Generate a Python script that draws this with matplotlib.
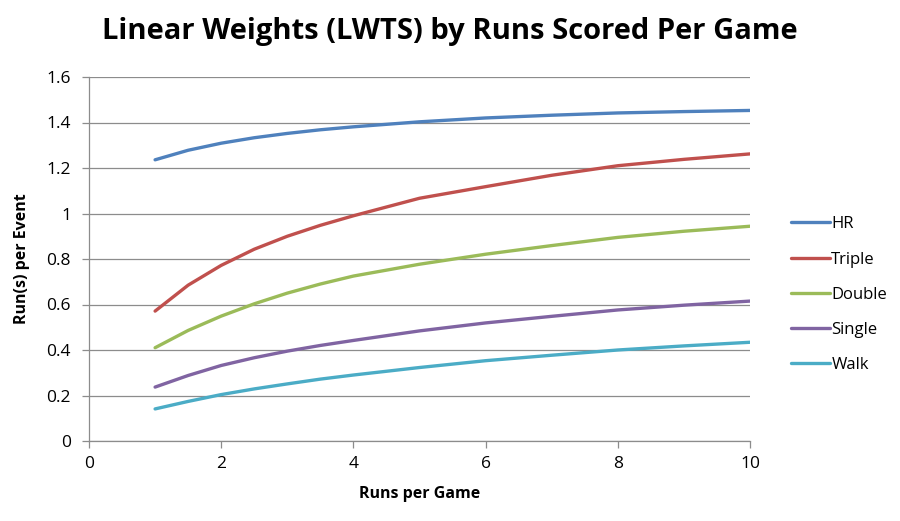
import numpy as np
import matplotlib
matplotlib.use('Agg')
import matplotlib.pyplot as plt

# values (runs per game -> runs per event)
runs_per_game = [1, 1.5, 2, 2.5, 3, 3.5, 4, 5, 6, 7, 8, 9, 10]
hr = [1.236, 1.278, 1.309, 1.333, 1.352, 1.368, 1.381, 1.403, 1.420, 1.432, 1.442, 1.448, 1.453]
triple = [0.571, 0.685, 0.772, 0.843, 0.900, 0.948, 0.990, 1.067, 1.118, 1.168, 1.210, 1.238, 1.262]
double = [0.410, 0.486, 0.549, 0.603, 0.650, 0.690, 0.725, 0.777, 0.821, 0.859, 0.895, 0.922, 0.944]
single = [0.237, 0.288, 0.332, 0.366, 0.395, 0.420, 0.442, 0.484, 0.519, 0.548, 0.576, 0.597, 0.615]
walk = [0.141, 0.174, 0.204, 0.229, 0.251, 0.272, 0.290, 0.323, 0.353, 0.377, 0.400, 0.418, 0.434]

series_names = ['HR', 'Triple', 'Double', 'Single', 'Walk']
series_vals = [hr, triple, double, single, walk]
colors = ['#4F81BD', '#C0504D', '#9BBB59', '#8064A2', '#4BACC6']

x_ticks = [0, 2, 4, 6, 8, 10]
y_ticks = [0, 0.2, 0.4, 0.6, 0.8, 1.0, 1.2, 1.4, 1.6]
y_labels = ['0', '0.2', '0.4', '0.6', '0.8', '1', '1.2', '1.4', '1.6']

plt.rcParams['font.family'] = ['Open Sans', 'DejaVu Sans']

W, H, DPI = 900, 521, 100
fig = plt.figure(figsize=(W / DPI, H / DPI), dpi=DPI)
ax = fig.add_axes([89 / W, 1 - 441 / H, (750 - 89) / W, (441 - 77) / H])

grid_col = '#8C8C8C'
for name, vals, col in zip(series_names, series_vals, colors):
    ax.plot(runs_per_game, vals, color=col, lw=2.4, label=name,
            solid_capstyle='round', solid_joinstyle='round')

ax.set_xlim(0, 10)
ax.set_ylim(0, 1.6)
ax.set_xticks(x_ticks)
ax.set_yticks(y_ticks)
ax.set_yticklabels(y_labels)
ax.yaxis.grid(True, color=grid_col, lw=0.9)
ax.set_axisbelow(True)
for s in ['top', 'right']:
    ax.spines[s].set_visible(False)
for s in ['left', 'bottom']:
    ax.spines[s].set_color(grid_col)
    ax.spines[s].set_linewidth(0.9)
ax.tick_params(axis='both', length=5, width=0.9, labelsize=12.5)
ax.tick_params(axis='both', color=grid_col, labelcolor='#000000')
ax.tick_params(axis='y', pad=8)
ax.tick_params(axis='x', pad=6)

ax.set_xlabel('Runs per Game', fontsize=11.5, fontweight='bold', labelpad=10)
ax.set_ylabel('Run(s) per Event', fontsize=11.5, fontweight='bold', labelpad=12)

fig.text(0.5, 1 - 32 / H, 'Linear Weights (LWTS) by Runs Scored Per Game',
         ha='center', va='center', fontsize=21, fontweight='bold')

leg = ax.legend(loc='upper left', bbox_to_anchor=(783 / W, 1 - 208 / H),
                bbox_transform=fig.transFigure, frameon=False,
                fontsize=12, handlelength=2.3, handletextpad=0.1,
                labelspacing=1.15, borderpad=0)

fig.savefig('out.png', dpi=DPI)
